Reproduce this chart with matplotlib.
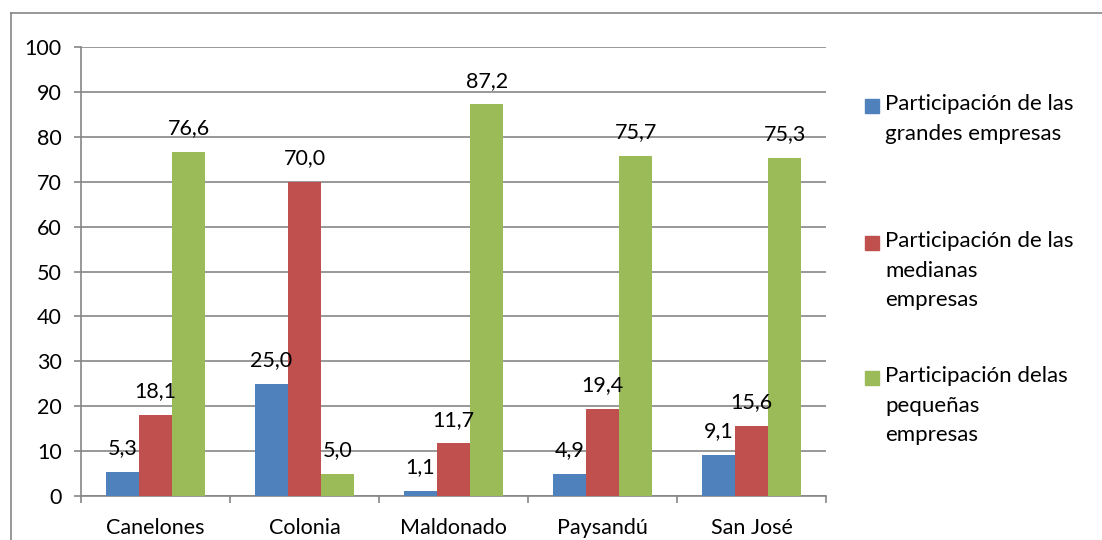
"""Grouped bar chart: participación por tamaño de empresa por departamento."""

import matplotlib
matplotlib.use("Agg")
import matplotlib.patches as mpatches
import matplotlib.pyplot as plt
import numpy as np

departamentos = ["Canelones", "Colonia", "Maldonado", "Paysandú", "San José"]
grandes = [5.3, 25.0, 1.1, 4.9, 9.1]
medianas = [18.1, 70.0, 11.7, 19.4, 15.6]
pequenas = [76.6, 5.0, 87.2, 75.7, 75.3]
series_labels = [
    "Participación de las\ngrandes empresas",
    "Participación de las\nmedianas\nempresas",
    "Participación delas\npequeñas\nempresas",
]
colors = ["#4F81BD", "#C0504D", "#9BBB59"]

GRID = "#868686"
FONT = "Lato"
FS = 15.5


def main() -> None:
    W, H = 1102, 540
    fig = plt.figure(figsize=(W / 100, H / 100), dpi=100)
    plt.rcParams["font.family"] = [FONT, "DejaVu Sans"]

    # outer chart border (cropped on right and bottom)
    fig.add_artist(plt.Line2D([11 / W, 11 / W], [0, 1 - 13 / H], color=GRID, lw=1.2))
    fig.add_artist(plt.Line2D([11 / W, 1], [1 - 13 / H, 1 - 13 / H], color=GRID, lw=1.2))

    left, right, top, bottom = 81, 826, 47, 496
    ax = fig.add_axes([left / W, 1 - bottom / H, (right - left) / W, (bottom - top) / H])

    x = np.arange(len(departamentos))
    w = 1 / 4.5
    for i, vals in enumerate([grandes, medianas, pequenas]):
        bars = ax.bar(x + (i - 1) * w, vals, w, color=colors[i], zorder=3)
        for b, v in zip(bars, vals):
            ax.annotate(f"{v:.1f}".replace(".", ","),
                        (b.get_x() + b.get_width() / 2, v),
                        xytext=(0, 17), textcoords="offset points",
                        ha="center", va="center", fontsize=FS, zorder=4)

    ax.set_xlim(-0.5, len(departamentos) - 0.5)
    ax.set_ylim(0, 100)
    ax.set_yticks(range(0, 101, 10))
    ax.yaxis.grid(True, color=GRID, lw=1.2, zorder=0)
    ax.set_xticks(x)
    ax.set_xticklabels(departamentos, fontsize=FS)
    ax.set_xticks(np.arange(-0.5, len(departamentos)), minor=True)
    ax.tick_params(axis="x", which="major", length=0, pad=16)
    ax.tick_params(axis="x", which="minor", length=5, color=GRID, width=1.2, direction="out")
    ax.tick_params(axis="y", length=5, color=GRID, width=1.2, labelsize=FS, pad=9)
    for s in ["top", "right"]:
        ax.spines[s].set_visible(False)
    for s in ["left", "bottom"]:
        ax.spines[s].set_color(GRID)
        ax.spines[s].set_linewidth(1.2)

    # legend drawn by hand so the swatch sits on the first line
    legend_y = [106, 243, 378]
    for c, lab, yy in zip(colors, series_labels, legend_y):
        fig.add_artist(mpatches.Rectangle((865 / W, 1 - (yy + 7) / H), 14 / W, 14 / H,
                                          color=c, transform=fig.transFigure))
        fig.text(885 / W, 1 - (yy - 12) / H, lab, fontsize=16, va="top", ha="left",
                 linespacing=1.6)

    fig.savefig("out.png", dpi=100)
    plt.close(fig)


if __name__ == "__main__":
    main()
